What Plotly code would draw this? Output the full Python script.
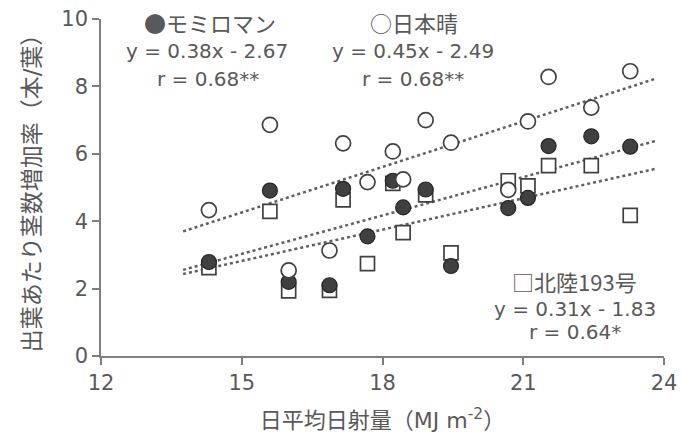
import plotly.graph_objects as go

# 日平均日射量 (MJ m-2) for each observation
x_vals = [14.3, 15.6, 16.0, 16.87, 17.16, 17.68, 18.22, 18.44, 18.92, 19.46, 20.68, 21.1, 21.54, 22.45, 23.28]

# 出葉あたり茎数増加率
momiroman = [2.79, 4.91, 2.20, 2.10, 4.96, 3.55, 5.20, 4.41, 4.94, 2.67, 4.39, 4.69, 6.23, 6.52, 6.21]
nipponbare = [4.33, 6.86, 2.54, 3.13, 6.31, 5.16, 6.07, 5.24, 7.00, 6.33, 4.93, 6.96, 8.28, 7.37, 8.45]
hokuriku = [2.62, 4.29, 1.93, 1.95, 4.63, 2.74, 5.12, 3.66, 4.78, 3.06, 5.20, 5.05, 5.65, 5.65, 4.17]

# regression equations printed on the chart
fits = {
    "モミロマン": (0.38, -2.67),
    "日本晴": (0.45, -2.49),
    "北陸193号": (0.31, -1.83),
}
fit_x = [13.75, 23.85]

x_ticks = [12, 15, 18, 21, 24]
y_ticks = [0, 2, 4, 6, 8, 10]

FONT = "DejaVu Sans, Noto Sans CJK JP, sans-serif"
CJK = "Noto Sans CJK JP, DejaVu Sans, sans-serif"
TXT = "#595959"
AX = "#7f7f7f"

fig = go.Figure()

# trend lines
for name, (a, b) in fits.items():
    fig.add_trace(go.Scatter(
        x=fit_x, y=[a * v + b for v in fit_x], mode="lines",
        line=dict(color="#606060", width=2.5, dash="dot"),
        showlegend=False, hoverinfo="skip"))

fig.add_trace(go.Scatter(
    x=x_vals, y=hokuriku, mode="markers", name="北陸193号",
    marker=dict(symbol="square", size=14, color="white",
                line=dict(color="#404040", width=1.7)),
    showlegend=False))
fig.add_trace(go.Scatter(
    x=x_vals, y=momiroman, mode="markers", name="モミロマン",
    marker=dict(symbol="circle", size=15, color="#404040",
                line=dict(color="#262626", width=1.2)),
    showlegend=False))
fig.add_trace(go.Scatter(
    x=x_vals, y=nipponbare, mode="markers", name="日本晴",
    marker=dict(symbol="circle", size=15, color="white",
                line=dict(color="#404040", width=1.7)),
    showlegend=False))

# variety labels (CJK font, full-width symbols)
labels = [
    ("●モミロマン", 14.32, 9.91),
    ("○日本晴", 18.68, 9.91),
    ("□北陸193号", 22.1, 2.23),
]
for t, ax_, ay_ in labels:
    fig.add_annotation(x=ax_, y=ay_, xref="x", yref="y", text=t,
                       showarrow=False, xanchor="center", yanchor="middle",
                       font=dict(family=CJK, size=22, color=TXT))

stats = [
    ("y = 0.38x - 2.67", 14.25, 9.05),
    ("y = 0.45x - 2.49", 18.64, 9.05),
    ("r = 0.68**", 14.27, 8.22),
    ("r = 0.68**", 18.64, 8.22),
    ("y = 0.31x - 1.83", 22.1, 1.40),
    ("r = 0.64*", 22.1, 0.72),
]
for t, ax_, ay_ in stats:
    fig.add_annotation(x=ax_, y=ay_, xref="x", yref="y", text=t,
                       showarrow=False, xanchor="center", yanchor="middle",
                       font=dict(family=FONT, size=20, color=TXT))

fig.update_layout(
    width=684, height=438,
    margin=dict(l=101, r=20, t=19, b=82),
    paper_bgcolor="white", plot_bgcolor="white",
    font=dict(family=FONT, color=TXT),
    showlegend=False,
)
fig.update_xaxes(
    range=[12, 24], tickvals=x_ticks, ticktext=[str(v) for v in x_ticks],
    automargin=False,
    showgrid=False, zeroline=False, showline=True, linecolor=AX, linewidth=1.5,
    ticks="outside", ticklen=7, tickcolor=AX, tickwidth=1.5,
    tickfont=dict(family=FONT, size=21, color=TXT),
    title=dict(text="日平均日射量（MJ m<sup>-2</sup>）", font=dict(family=FONT, size=22, color=TXT), standoff=19),
)
fig.update_yaxes(
    range=[0, 10], tickvals=y_ticks, ticktext=[str(v) for v in y_ticks],
    automargin=False,
    showgrid=False, zeroline=False, showline=True, linecolor=AX, linewidth=1.5,
    ticks="outside", ticklen=7, tickcolor=AX, tickwidth=1.5,
    tickfont=dict(family=FONT, size=21, color=TXT),
    title=dict(text="出葉あたり茎数増加率（本/葉）", font=dict(family=FONT, size=23, color=TXT), standoff=14),
)

fig.write_html("out.html")
